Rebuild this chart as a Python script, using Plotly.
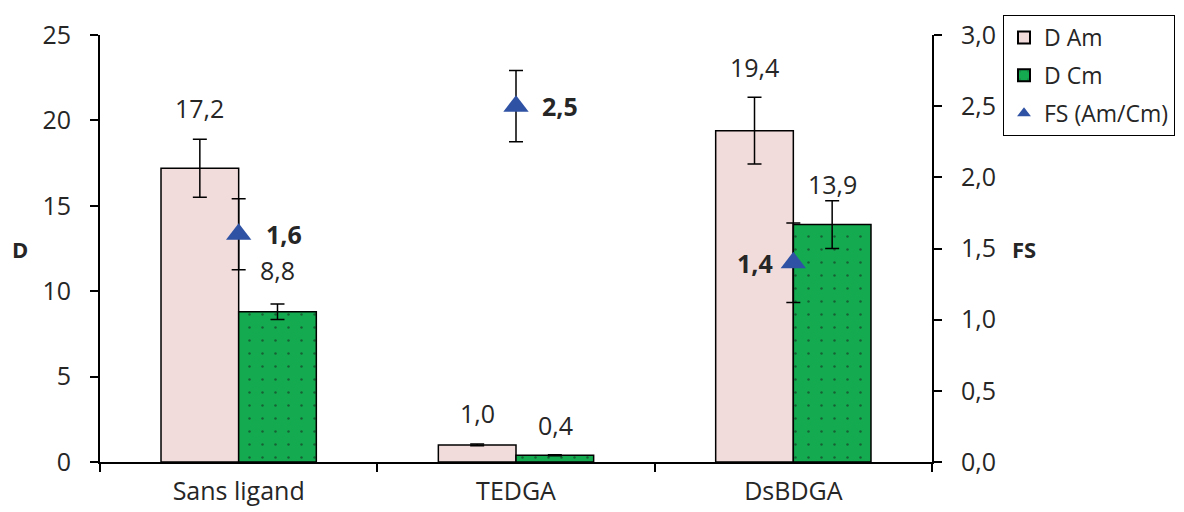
import plotly.graph_objects as go

categories = ["Sans ligand", "TEDGA", "DsBDGA"]
d_am = [17.2, 1.0, 19.4]
d_am_err = [1.7, 0.05, 1.95]
d_cm = [8.8, 0.4, 13.9]
d_cm_err = [0.45, 0.03, 1.4]
fs = [1.6, 2.5, 1.4]
fs_err = [0.25, 0.25, 0.28]

am_labels = ["17,2", "1,0", "19,4"]
cm_labels = ["8,8", "0,4", "13,9"]
fs_labels = ["1,6", "2,5", "1,4"]

FONT = "Open Sans"
TXT = "#262626"
FS_ = 25

fig = go.Figure()
fig.add_trace(go.Bar(
    name="D Am", x=categories, y=d_am, legendgroup="am",
    marker=dict(color="#F2DCDB", line=dict(color="black", width=1.5)),
    error_y=dict(type="data", array=d_am_err, color="black", thickness=1.5, width=7),
    offsetgroup="am",
))
fig.add_trace(go.Bar(
    name="D Cm", x=categories, y=d_cm, legendgroup="cm",
    marker=dict(color="#14AB50", line=dict(color="black", width=1.5),
                pattern=dict(shape=".", fgcolor="#1a1a1a", bgcolor="#14AB50", size=13, solidity=0.03)),
    error_y=dict(type="data", array=d_cm_err, color="black", thickness=1.5, width=7),
    offsetgroup="cm",
))
fig.add_trace(go.Scatter(
    name="FS (Am/Cm)", x=categories, y=fs, yaxis="y2", mode="markers", legendgroup="fs",
    marker=dict(symbol="triangle-up", size=22, color="#2F52A4"),
    error_y=dict(type="data", array=fs_err, color="black", thickness=1.5, width=7),
))

# bar value labels
am_shift = [31, 31, 30]
cm_shift = [34, 30, 17]
for i, c in enumerate(categories):
    fig.add_annotation(x=c, y=d_am[i] + d_am_err[i], xref="x", yref="y", text=am_labels[i],
                       showarrow=False, xshift=-39, yshift=am_shift[i],
                       font=dict(family=FONT, size=FS_, color=TXT))
    fig.add_annotation(x=c, y=d_cm[i] + d_cm_err[i], xref="x", yref="y", text=cm_labels[i],
                       showarrow=False, xshift=39, yshift=cm_shift[i],
                       font=dict(family=FONT, size=FS_, color=TXT))
fs_xshift = [45, 44, -38]
for i, c in enumerate(categories):
    fig.add_annotation(x=c, y=fs[i], xref="x", yref="y2", text="<b>" + fs_labels[i] + "</b>",
                       showarrow=False, xshift=fs_xshift[i], yshift=0,
                       font=dict(family=FONT, size=FS_, color=TXT))

# axis titles (horizontal)
fig.add_annotation(x=0, y=12.5, xref="paper", yref="y", text="<b>D</b>", showarrow=False,
                   xshift=-90, font=dict(family=FONT, size=FS_ - 3, color=TXT))
fig.add_annotation(x=1, y=12.5, xref="paper", yref="y", text="<b>FS</b>", showarrow=False,
                   xshift=106, font=dict(family=FONT, size=FS_ - 3, color=TXT))

fig.update_layout(
    width=1176, height=504,
    margin=dict(l=92, r=252, t=27, b=50),
    plot_bgcolor="white", paper_bgcolor="white",
    font=dict(family=FONT, size=FS_, color=TXT),
    barmode="group", bargap=0.44, bargroupgap=0,
    showlegend=True,
    legend=dict(x=995 / 1176, y=1 - 7 / 504, xref="container", yref="container",
                xanchor="left", yanchor="top",
                bordercolor="black", borderwidth=1, bgcolor="white",
                font=dict(family=FONT, size=FS_ - 2, color=TXT),
                tracegroupgap=5, itemsizing="constant", itemwidth=30),
    xaxis=dict(showline=True, linecolor="black", linewidth=2, ticks="outside",
               tickson="boundaries", ticklen=8, tickcolor="black", tickwidth=1.5,
               showgrid=False, tickfont=dict(size=FS_), automargin=False,
               ticklabelstandoff=6),
    yaxis=dict(range=[0, 25], dtick=5, showline=True, linecolor="black", linewidth=2,
               ticks="outside", ticklen=8, tickcolor="black", tickwidth=1.5,
               showgrid=False, zeroline=False, tickfont=dict(size=FS_), automargin=False,
               ticklabelstandoff=14),
    yaxis2=dict(range=[0, 3], dtick=0.5, tickformat=".1f", overlaying="y", side="right",
                showline=True, linecolor="black", linewidth=2,
                ticks="outside", ticklen=8, tickcolor="black", tickwidth=1.5,
                showgrid=False, zeroline=False, tickfont=dict(size=FS_), automargin=False,
                ticklabelstandoff=14),
    separators=", ",
)

fig.write_html("out.html")
